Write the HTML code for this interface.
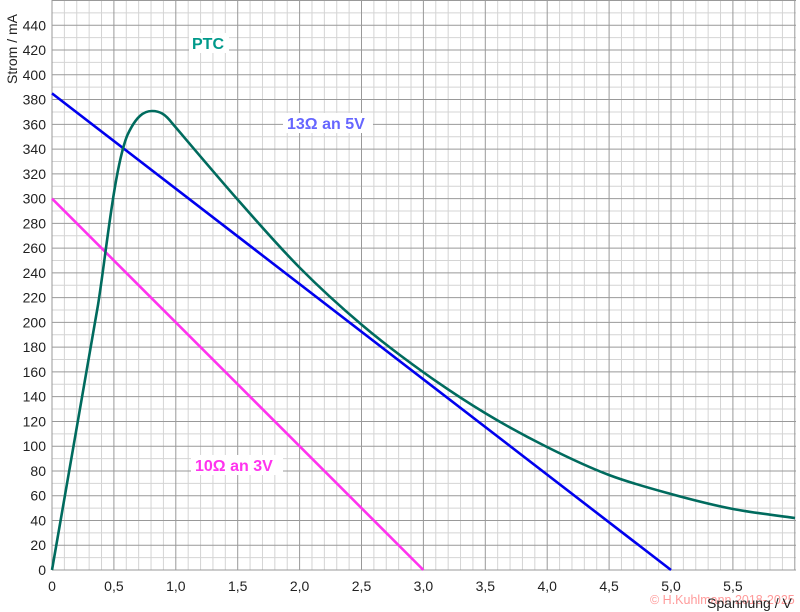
<!DOCTYPE html>
<html><head><meta charset="utf-8"><style>
html,body{margin:0;padding:0;background:#fff;}
svg{display:block;font-family:"Liberation Sans",sans-serif;}
</style></head><body>
<svg id="s" width="800" height="612" viewBox="0 0 800 612" xmlns="http://www.w3.org/2000/svg">
<g id="grid"></g>
<g id="lbl" font-size="14" fill="#222"></g>
<text x="0" y="0" transform="translate(17,84) rotate(-90)" font-size="14" fill="#222">Strom / mA</text>
<line x1="52" y1="93.4" x2="671" y2="570" stroke="#0000ee" stroke-width="2.6"/>
<line x1="52" y1="198.6" x2="423.4" y2="570" stroke="#ff33ee" stroke-width="2.6"/>
<path id="ptc" fill="none" stroke="#006b5e" stroke-width="2.6"/>
<rect x="189" y="33" width="40" height="20" fill="#fff"/>
<text x="192" y="49" font-size="16" font-weight="bold" fill="#00998a">PTC</text>
<rect x="283" y="113" width="90" height="20" fill="#fff"/>
<text x="287" y="129" font-size="16" font-weight="bold" fill="#6666ff">13Ω an 5V</text>
<rect x="191" y="455" width="92" height="20" fill="#fff"/>
<text x="195" y="471" font-size="16" font-weight="bold" fill="#ff33ee">10Ω an 3V</text>
<text x="650" y="604" font-size="12.5" fill="#ff5555" fill-opacity="0.6">© H.Kuhlmann 2018-2025</text>
<text x="707" y="608" font-size="14" fill="#222">Spannung / V</text>
</svg>
<script>
var g=document.getElementById('grid'),L=document.getElementById('lbl'),ns='http://www.w3.org/2000/svg';
function ln(x1,y1,x2,y2,c){var e=document.createElementNS(ns,'line');e.setAttribute('x1',x1);e.setAttribute('y1',y1);e.setAttribute('x2',x2);e.setAttribute('y2',y2);e.setAttribute('stroke',c);e.setAttribute('stroke-width',1);g.appendChild(e);}
function tx(x,y,s,a){var e=document.createElementNS(ns,'text');e.setAttribute('x',x);e.setAttribute('y',y);e.setAttribute('text-anchor',a);e.textContent=s;L.appendChild(e);}
var u=12.38,x0=52,y0=570;
for(var i=0;i<=60;i++){var x=x0+i*u;if(i%5)ln(x,0,x,570,'#d4d4d4');}
for(var j=0;j<=46;j++){var y=y0-j*u;if(j%2)ln(52,y,796,y,'#d4d4d4');}
for(var j=0;j<=46;j+=2){var y=y0-j*u;ln(52,y,796,y,'#999');if(j<=44)tx(46,y+5,String(j*10),'end');}
for(var i=0;i<=60;i+=5){var x=x0+i*u;ln(x,0,x,570,'#999');if(i>0&&i<60)tx(x,591,(i/10).toFixed(1).replace('.',','),'middle');}
tx(52,591,'0','middle');
var pts=[[172,123],[238,200],[300,268],[362,325],[423,372],[485,413],[547,447],[609,475],[671,494],[733,509],[795,518]];
var d='M52,570 L98,305 C106,255 114,170 127,136 C136,116 144,111 152,111 C160,111 165,114 172,123';
for(var k=0;k<pts.length-1;k++){var p0=pts[Math.max(0,k-1)],p1=pts[k],p2=pts[k+1],p3=pts[Math.min(pts.length-1,k+2)];
var c1=[p1[0]+(p2[0]-p0[0])/6,p1[1]+(p2[1]-p0[1])/6],c2=[p2[0]-(p3[0]-p1[0])/6,p2[1]-(p3[1]-p1[1])/6];
d+=' C'+c1+' '+c2+' '+p2;}
document.getElementById('ptc').setAttribute('d',d);
</script>
</body></html>
